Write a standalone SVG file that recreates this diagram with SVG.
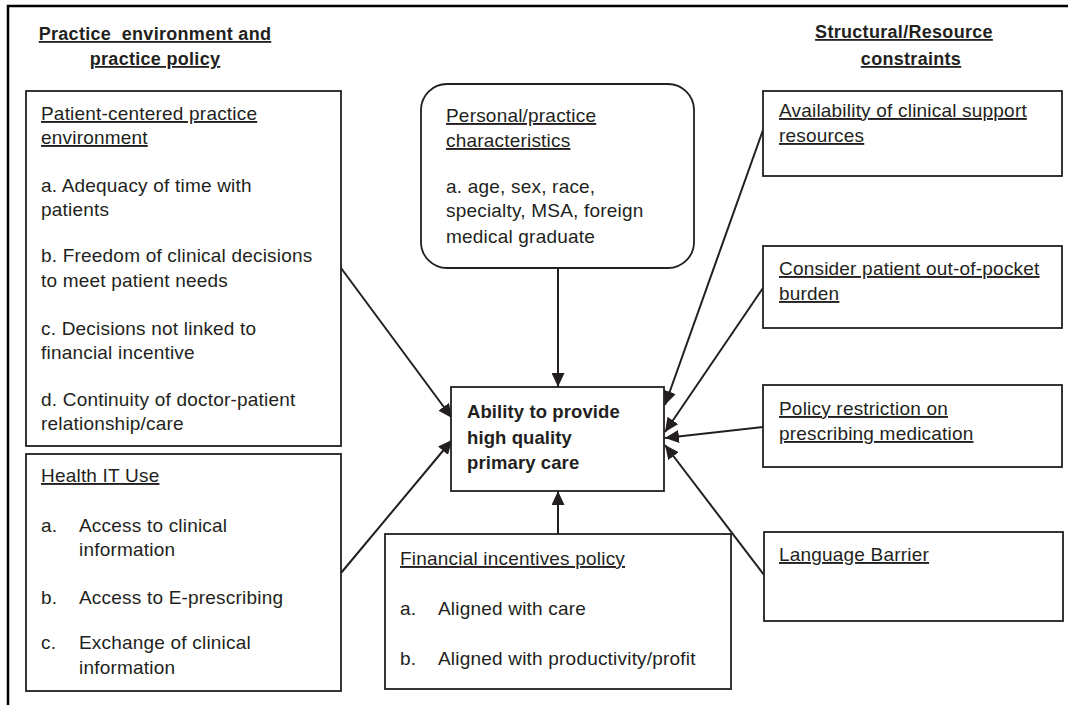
<svg xmlns="http://www.w3.org/2000/svg" width="1068" height="705" viewBox="0 0 1068 705">
<style>
  .box{fill:#fff;stroke:#231f20;stroke-width:1.8}
  .t{font-family:"Liberation Sans",Arial,sans-serif;font-size:19px;fill:#231f20;letter-spacing:0.2px}
  .u{text-decoration:underline}
  .b{font-weight:bold;font-size:18.5px;letter-spacing:0.1px}
  .hd{font-family:"Liberation Sans",Arial,sans-serif;font-size:18px;font-weight:bold;fill:#231f20;text-decoration:underline;letter-spacing:0.3px;white-space:pre}
  .c{fill:none;stroke:#231f20;stroke-width:2}
</style>
<defs>
  <marker id="ah" markerUnits="userSpaceOnUse" markerWidth="15" markerHeight="13" refX="14" refY="6.5" orient="auto">
    <path d="M0,0 L14,6.5 L0,13 z" fill="#231f20"/>
  </marker>
</defs>
<rect width="1068" height="705" fill="#fff"/>
<g id="frame">
  <path d="M8,705 L8,6 L1068,6" fill="none" stroke="#000" stroke-width="2.5"/>
</g>
<g id="headers">
  <text class="hd" x="155" y="40" text-anchor="middle">Practice  environment and</text>
  <text class="hd" x="155" y="65" text-anchor="middle">practice policy</text>
  <text class="hd" x="904" y="38" text-anchor="middle">Structural/Resource</text>
  <text class="hd" x="911" y="65" text-anchor="middle">constraints</text>
</g>
<g id="connectors">
  <line class="c" x1="341" y1="268" x2="452" y2="418" marker-end="url(#ah)"/>
  <line class="c" x1="341" y1="573" x2="452" y2="440" marker-end="url(#ah)"/>
  <line class="c" x1="558" y1="268" x2="558" y2="387" marker-end="url(#ah)"/>
  <line class="c" x1="558" y1="534" x2="558" y2="491" marker-end="url(#ah)"/>
  <line class="c" x1="763" y1="130" x2="665" y2="405" marker-end="url(#ah)"/>
  <line class="c" x1="763" y1="288" x2="665" y2="432" marker-end="url(#ah)"/>
  <line class="c" x1="763" y1="427" x2="665" y2="438" marker-end="url(#ah)"/>
  <line class="c" x1="764" y1="575" x2="665" y2="445" marker-end="url(#ah)"/>
</g>
<g id="patient-centered">
  <rect class="box" x="26" y="91" width="315" height="355"/>
  <text class="t u" x="41" y="120">Patient-centered practice</text>
  <text class="t u" x="41" y="144">environment</text>
  <text class="t" x="41" y="192">a. Adequacy of time with</text>
  <text class="t" x="41" y="216">patients</text>
  <text class="t" x="41" y="262">b. Freedom of clinical decisions</text>
  <text class="t" x="41" y="287">to meet patient needs</text>
  <text class="t" x="41" y="335">c. Decisions not linked to</text>
  <text class="t" x="41" y="359">financial incentive</text>
  <text class="t" x="41" y="406">d. Continuity of doctor-patient</text>
  <text class="t" x="41" y="430">relationship/care</text>
</g>
<g id="health-it">
  <rect class="box" x="26" y="454" width="315" height="237"/>
  <text class="t u" x="41" y="482">Health IT Use</text>
  <text class="t" x="41" y="532">a.</text>
  <text class="t" x="79" y="532">Access to clinical</text>
  <text class="t" x="79" y="556">information</text>
  <text class="t" x="41" y="604">b.</text>
  <text class="t" x="79" y="604">Access to E-prescribing</text>
  <text class="t" x="41" y="649">c.</text>
  <text class="t" x="79" y="649">Exchange of clinical</text>
  <text class="t" x="79" y="674">information</text>
</g>
<g id="personal">
  <rect class="box" x="421" y="84" width="273" height="184" rx="26" ry="26"/>
  <text class="t u" x="446" y="122">Personal/practice</text>
  <text class="t u" x="446" y="147">characteristics</text>
  <text class="t" x="446" y="193">a. age, sex, race,</text>
  <text class="t" x="446" y="217">specialty, MSA, foreign</text>
  <text class="t" x="446" y="243">medical graduate</text>
</g>
<g id="center">
  <rect class="box" x="451" y="387" width="213" height="104"/>
  <text class="t b" x="467" y="418">Ability to provide</text>
  <text class="t b" x="467" y="444">high quality</text>
  <text class="t b" x="467" y="469">primary care</text>
</g>
<g id="financial">
  <rect class="box" x="385" y="534" width="346" height="155"/>
  <text class="t u" x="400" y="565">Financial incentives policy</text>
  <text class="t" x="400" y="615">a.</text>
  <text class="t" x="438" y="615">Aligned with care</text>
  <text class="t" x="400" y="665">b.</text>
  <text class="t" x="438" y="665">Aligned with productivity/profit</text>
</g>
<g id="availability">
  <rect class="box" x="763" y="91" width="299" height="85"/>
  <text class="t u" x="779" y="117">Availability of clinical support</text>
  <text class="t u" x="779" y="142">resources</text>
</g>
<g id="out-of-pocket">
  <rect class="box" x="763" y="246" width="299" height="82"/>
  <text class="t u" x="779" y="275">Consider patient out-of-pocket</text>
  <text class="t u" x="779" y="300">burden</text>
</g>
<g id="policy-restriction">
  <rect class="box" x="763" y="385" width="299" height="82"/>
  <text class="t u" x="779" y="415">Policy restriction on</text>
  <text class="t u" x="779" y="440">prescribing medication</text>
</g>
<g id="language">
  <rect class="box" x="764" y="532" width="299" height="89"/>
  <text class="t u" x="779" y="561">Language Barrier</text>
</g>
</svg>
